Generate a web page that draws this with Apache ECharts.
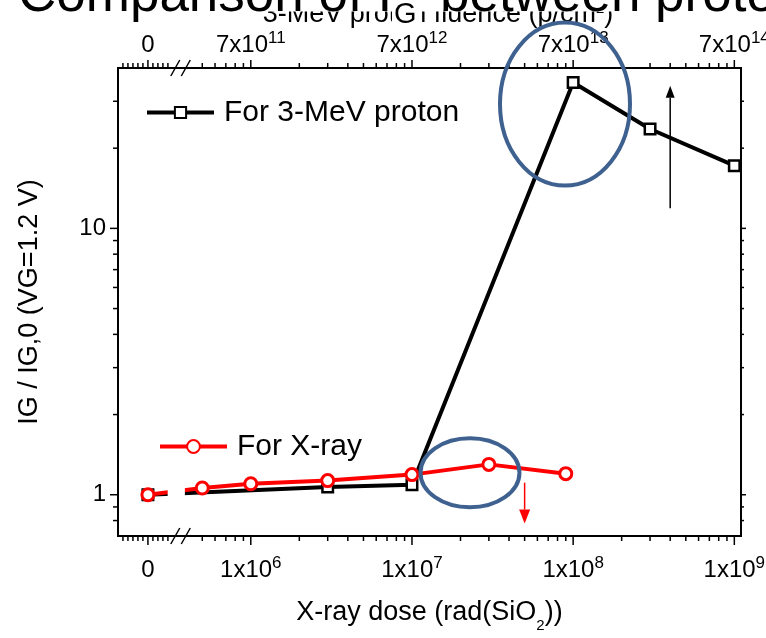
<!DOCTYPE html>
<html><head><meta charset="utf-8">
<script src="https://cdn.jsdelivr.net/npm/echarts@6/dist/echarts.min.js"></script>
<style>html,body{margin:0;padding:0;background:#fff}#c{width:766px;height:638px}</style>
</head><body><div id="c"></div>
<script>
// ---------------- data ----------------
const xrayDose = [0, 5e5, 1e6, 3e6, 1e7, 3e7, 9e7];            // rad(SiO2)
const xrayIG   = [1.00, 1.06, 1.10, 1.13, 1.19, 1.30, 1.20];
const protonFluence = [0, 2.1e12, 7e12, 7e13, 2.1e14, 7e14];  // p/cm^2
const protonIG      = [1.00, 1.07, 1.09, 35.3, 23.6, 17.2];
const doseTickExps = [6, 7, 8, 9];          // bottom labels 1x10^n
const fluenceTickExps = [11, 12, 13, 14];   // top labels 7x10^n
const yTickLabels = [1, 10];
const yMinorTicks = [0.8, 0.9, 2, 3, 4, 5, 6, 7, 8, 9, 20, 30];

// ---------------- axis settings ----------------
const FONT = 'Liberation Sans';
const FLUENCE_PER_DOSE = 7e5;              // top axis = bottom axis x 7e5
const X_MIN = 1.5e5, X_MAX = 1.1e9;
const ZERO_AT = 2.3e5;                     // where the "0" sits left of the break
const ZERO_TICK_STEP = 0.031;              // decades between the small ticks near 0
const ZERO_TICK_K = [-5, -4, -3, -2, -1, 1, 2, 3, 4];
const BREAK_SLASHES = [3.4e5, 3.95e5];
const BREAK_TO = 4.3e5;
const GAP_FROM = 3.05e5, GAP_TO = 3.9e5;
const Y_MIN = 0.7, Y_MAX = 40;

// annotations (data space anchors)
const ellipseCenters = [[8.9e7, 29.3], [2.29e7, 1.21]];
const ellipseRadii = [[65, 81.5], [49.5, 34.5]];
const arrowStarts = [[4e8, 11.9], [5e7, 1.11]];
const arrowTips = [34.3, 0.78];
const arrowColors = ['#000', '#f00'];

// ---------------- derived ----------------
const xrayData = xrayDose.map((d, i) => [d === 0 ? ZERO_AT : d, xrayIG[i]]);
const protonData = protonFluence.map((f, i) => [f === 0 ? ZERO_AT * FLUENCE_PER_DOSE : f, protonIG[i]]);

const bottomTicks = [[ZERO_AT, 1]];
ZERO_TICK_K.forEach(k => bottomTicks.push([ZERO_AT * Math.pow(10, k * ZERO_TICK_STEP), 0]));
for (let d = 5; d <= 8; d++) for (let m = 1; m <= 9; m++) {
  const v = m * Math.pow(10, d);
  if (v < BREAK_TO || v > X_MAX) continue;
  bottomTicks.push([v, m === 1 ? 1 : 0]);
}
bottomTicks.push([1e9, 1]);
const topTicks = bottomTicks.map(t => [t[0] * FLUENCE_PER_DOSE, t[1]]);
const yTicks = yTickLabels.map(v => [v, 1]).concat(yMinorTicks.map(v => [v, 0]));

const bottomLabels = [[ZERO_AT, '{b|0}']].concat(doseTickExps.map(e => [Math.pow(10, e), '{b|1x10}{s|' + e + '}']));
const topLabels = [[ZERO_AT * FLUENCE_PER_DOSE, '{b|0}']].concat(fluenceTickExps.map(e => [7 * Math.pow(10, e), '{b|7x10}{s|' + e + '}']));

const tickRich = {
  b: {fontSize: 24, lineHeight: 28, fontFamily: FONT, color: '#000', verticalAlign: 'bottom'},
  s: {fontSize: 17, lineHeight: 17, fontFamily: FONT, color: '#000', verticalAlign: 'top'}
};

const chart = echarts.init(document.getElementById('c'), null, {renderer: 'canvas'});

function lineEl(x1, y1, x2, y2, w, c) {
  return {type: 'line', shape: {x1, y1, x2, y2}, style: {stroke: c || '#000', lineWidth: w || 1.5}};
}

const legendText = {color: '#000', fontSize: 30, fontFamily: FONT,
  rich: {t: {fontSize: 30, fontFamily: FONT, color: '#000', padding: [0, 0, 0, 5]}}};

const option = {
  animation: false,
  backgroundColor: '#fff',
  textStyle: {fontFamily: FONT},
  grid: {left: 118, top: 68, width: 623, height: 468, show: true, borderColor: '#000', borderWidth: 2,
         backgroundColor: 'transparent', containLabel: false, outerBoundsMode: 'none'},
  legend: [
    {data: ['For 3-MeV proton'], left: 145, top: 97.5, padding: 0, itemWidth: 67, itemHeight: 14,
     selectedMode: false, formatter: n => '{t|' + n + '}', lineStyle: {width: 4}, textStyle: legendText},
    {data: ['For X-ray'], left: 158, top: 431.5, padding: 0, itemWidth: 67, itemHeight: 16,
     selectedMode: false, formatter: n => '{t|' + n + '}', lineStyle: {width: 4}, textStyle: legendText}
  ],
  xAxis: [
    {type: 'log', logBase: 10, min: X_MIN, max: X_MAX, position: 'bottom',
     axisLine: {show: false}, axisTick: {show: false}, axisLabel: {show: false}, splitLine: {show: false},
     name: '{a|X-ray dose (rad(SiO}{s|2}{a|))}', nameLocation: 'middle', nameGap: 63,
     nameTextStyle: {fontSize: 27, color: '#000', fontFamily: FONT, rich: {
       a: {fontSize: 27, lineHeight: 30, fontFamily: FONT, color: '#000', verticalAlign: 'top'},
       s: {fontSize: 15, lineHeight: 15, fontFamily: FONT, color: '#000', verticalAlign: 'top', padding: [19, 0, 0, 0]}}}},
    {type: 'log', logBase: 10, min: X_MIN * FLUENCE_PER_DOSE, max: X_MAX * FLUENCE_PER_DOSE, position: 'top',
     axisLine: {show: false}, axisTick: {show: false}, axisLabel: {show: false}, splitLine: {show: false},
     name: '{a|3-MeV proton fluence (p/cm}{s|2}{a|)}', nameLocation: 'middle', nameGap: 37,
     nameTextStyle: {fontSize: 27, color: '#000', fontFamily: FONT, padding: [0, 0, 0, 17], rich: {
       a: {fontSize: 27, lineHeight: 30, fontFamily: FONT, color: '#000', verticalAlign: 'top'},
       s: {fontSize: 15, lineHeight: 15, fontFamily: FONT, color: '#000', verticalAlign: 'top'}}}}
  ],
  yAxis: [
    {type: 'log', logBase: 10, min: Y_MIN, max: Y_MAX,
     axisLine: {show: false}, axisTick: {show: false}, splitLine: {show: false},
     axisLabel: {fontSize: 24, color: '#000', fontFamily: FONT, margin: 12,
       formatter: v => { const hit = yTickLabels.find(t => Math.abs(v - t) / t < 1e-6); return hit === undefined ? '' : String(hit); }},
     name: 'IG / IG,0 (VG=1.2 V)', nameLocation: 'middle', nameGap: 75, nameRotate: 90,
     nameTextStyle: {fontSize: 27, color: '#000', fontFamily: FONT}}
  ],
  series: [
    {name: 'For 3-MeV proton', type: 'line', xAxisIndex: 1, yAxisIndex: 0, data: protonData,
     symbol: 'rect', symbolSize: 10.5, itemStyle: {color: '#fff', borderColor: '#000', borderWidth: 2.5},
     lineStyle: {color: '#000', width: 4}, z: 2},
    {name: 'For X-ray', type: 'line', xAxisIndex: 0, yAxisIndex: 0, data: xrayData,
     symbol: 'circle', symbolSize: 12, itemStyle: {color: '#fff', borderColor: '#f00', borderWidth: 3},
     lineStyle: {color: '#f00', width: 4}, z: 3},
    // gap in lines at axis break
    {type: 'custom', xAxisIndex: 0, yAxisIndex: 0, clip: false, silent: true, z: 4,
     data: [[GAP_FROM, 1]],
     renderItem: (params, api) => {
       const a = api.coord([GAP_FROM, 1.1]), b = api.coord([GAP_TO, 0.96]);
       return {type: 'rect', shape: {x: a[0], y: a[1], width: b[0] - a[0], height: b[1] - a[1]}, style: {fill: '#fff'}};
     }},
    // bottom ticks
    {type: 'custom', xAxisIndex: 0, yAxisIndex: 0, clip: false, silent: true, z: 5,
     data: bottomTicks.map(t => [t[0], 1]),
     renderItem: (params, api) => {
       const major = bottomTicks[params.dataIndex][1];
       const p = api.coord([api.value(0), Y_MIN]);
       return lineEl(p[0], p[1], p[0], p[1] + (major ? 9 : 5));
     }},
    // top ticks
    {type: 'custom', xAxisIndex: 1, yAxisIndex: 0, clip: false, silent: true, z: 5,
     data: topTicks.map(t => [t[0], 1]),
     renderItem: (params, api) => {
       const major = topTicks[params.dataIndex][1];
       const p = api.coord([api.value(0), Y_MAX]);
       return lineEl(p[0], p[1], p[0], p[1] - (major ? 8 : 5));
     }},
    // y ticks left & right
    {type: 'custom', xAxisIndex: 0, yAxisIndex: 0, clip: false, silent: true, z: 5,
     data: yTicks.map(t => [X_MIN, t[0]]),
     renderItem: (params, api) => {
       const major = yTicks[params.dataIndex][1];
       const v = api.value(1);
       const l = api.coord([X_MIN, v]), r = api.coord([X_MAX, v]);
       return {type: 'group', children: [
         lineEl(l[0], l[1], l[0] - (major ? 8 : 5), l[1]),
         lineEl(r[0], r[1], r[0] + (major ? 5 : 3), r[1])
       ]};
     }},
    // bottom labels
    {type: 'custom', xAxisIndex: 0, yAxisIndex: 0, clip: false, silent: true, z: 5,
     data: bottomLabels.map(l => [l[0], 1]),
     renderItem: (params, api) => {
       const p = api.coord([api.value(0), Y_MIN]);
       return {type: 'text', x: p[0], y: p[1] + 18.5,
         style: {text: bottomLabels[params.dataIndex][1], rich: tickRich, align: 'center', verticalAlign: 'top', fill: '#000'}};
     }},
    // top labels
    {type: 'custom', xAxisIndex: 1, yAxisIndex: 0, clip: false, silent: true, z: 5,
     data: topLabels.map(l => [l[0], 1]),
     renderItem: (params, api) => {
       const p = api.coord([api.value(0), Y_MAX]);
       return {type: 'text', x: p[0], y: p[1] - 10.5,
         style: {text: topLabels[params.dataIndex][1], rich: tickRich, align: 'center', verticalAlign: 'bottom', fill: '#000'}};
     }},
    // axis break slashes
    {type: 'custom', xAxisIndex: 0, yAxisIndex: 0, clip: false, silent: true, z: 6,
     data: BREAK_SLASHES.map(v => [v, 1]),
     renderItem: (params, api) => {
       const b = api.coord([api.value(0), Y_MIN]), t = api.coord([api.value(0), Y_MAX]);
       return {type: 'group', children: [
         lineEl(b[0] - 4.5, b[1] + 8, b[0] + 4.5, b[1] - 8, 1.5),
         lineEl(t[0] - 4.5, t[1] + 8, t[0] + 4.5, t[1] - 8, 1.5)
       ]};
     }},
    // ellipses
    {type: 'custom', xAxisIndex: 0, yAxisIndex: 0, clip: false, silent: true, z: 7,
     data: ellipseCenters,
     renderItem: (params, api) => {
       const c = api.coord([api.value(0), api.value(1)]);
       const r = ellipseRadii[params.dataIndex];
       return {type: 'ellipse', shape: {cx: c[0], cy: c[1], rx: r[0], ry: r[1]},
         style: {fill: 'none', stroke: '#3F6190', lineWidth: 4}};
     }},
    // arrows
    {type: 'custom', xAxisIndex: 0, yAxisIndex: 0, clip: false, silent: true, z: 7,
     data: arrowStarts,
     renderItem: (params, api) => {
       const i = params.dataIndex;
       const s = api.coord([api.value(0), api.value(1)]);
       const t = api.coord([api.value(0), arrowTips[i]]);
       const dir = t[1] < s[1] ? -1 : 1;
       const len = i === 0 ? 12 : 14, hw = i === 0 ? 4.5 : 5.5;
       const c = arrowColors[i];
       return {type: 'group', children: [
         lineEl(s[0], s[1], t[0], t[1] - dir * len, 1.5, c),
         {type: 'polygon', shape: {points: [[t[0], t[1]], [t[0] - hw, t[1] - dir * len], [t[0] + hw, t[1] - dir * len]]},
          style: {fill: c}}
       ]};
     }}
  ],
  graphic: [
    {type: 'rect', z: 50, shape: {x: 0, y: 0, width: 766, height: 11.5}, style: {fill: '#fff'}},
    {type: 'text', z: 51, x: 18, y: -4, style: {text: 'Comparison of I', fontSize: 53, fontFamily: FONT, fill: '#000', verticalAlign: 'middle'}},
    {type: 'text', z: 51, x: 392, y: 15, style: {text: 'G', fontSize: 29, fontFamily: FONT, fill: '#000', verticalAlign: 'middle', backgroundColor: '#fff', padding: [0, 2]}},
    {type: 'text', z: 51, x: 440, y: -4, style: {text: 'between proton and X-ray', fontSize: 53, fontFamily: FONT, fill: '#000', verticalAlign: 'middle'}}
  ]
};
chart.setOption(option);
</script>
</body></html>
